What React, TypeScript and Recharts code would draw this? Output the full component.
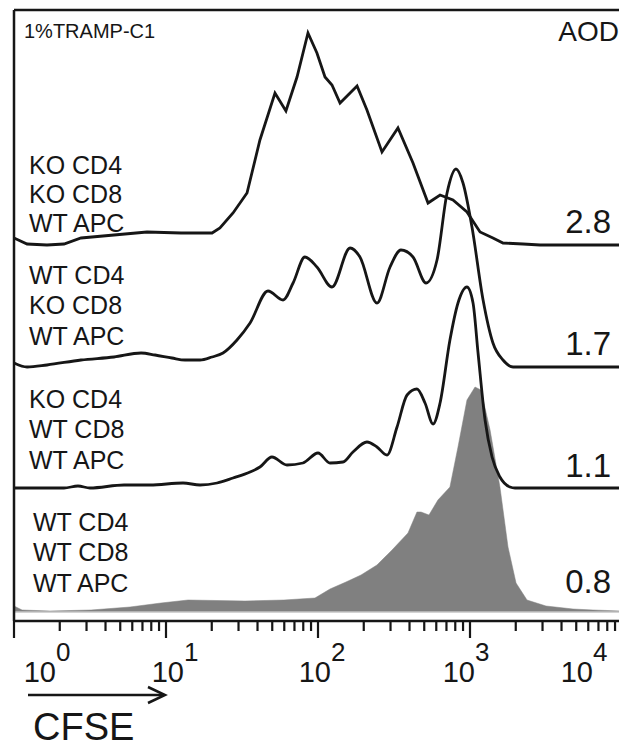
import React from 'react';
import { ComposedChart, Line, Area, XAxis, YAxis, ReferenceLine } from 'recharts';

// x values: log10 of CFSE intensity; y values: histogram height (counts, normalized)
const C1_X = [0, 0.086, 0.217, 0.329, 0.441, 0.658, 0.875, 1.099, 1.303, 1.355, 1.441, 1.533, 1.618, 1.717, 1.789, 1.862, 1.934, 1.993, 2.046, 2.092, 2.145, 2.257, 2.322, 2.421, 2.526, 2.625, 2.724, 2.803, 2.888, 2.98, 3.066, 3.151, 3.217, 3.349, 3.461, 4];
const C1_Y = [7, 1, 0, 1, 7, 10, 13, 12, 12, 17, 32, 52, 105, 152, 134, 168, 212, 192, 168, 160, 142, 159, 135, 93, 117, 82, 42, 50, 45, 33, 13, 7, 2, 1, 0, 0];

const C2_X = [0, 0.086, 0.217, 0.441, 0.658, 0.836, 0.928, 1.039, 1.125, 1.224, 1.303, 1.375, 1.467, 1.553, 1.671, 1.77, 1.836, 1.914, 1.993, 2.092, 2.211, 2.276, 2.388, 2.474, 2.546, 2.625, 2.711, 2.783, 2.849, 2.908, 2.954, 3.013, 3.086, 3.151, 3.217, 3.283, 4];
const C2_Y = [4, 0, 2, 7, 10, 14, 12, 9, 7, 7, 10, 14, 27, 44, 76, 67, 84, 110, 100, 80, 119, 110, 64, 100, 117, 110, 84, 107, 174, 198, 184, 140, 67, 24, 7, 0, 0];

const C3_X = [0, 0.329, 0.421, 0.5, 0.724, 0.895, 1.112, 1.224, 1.336, 1.441, 1.553, 1.618, 1.697, 1.796, 1.901, 2.0, 2.079, 2.164, 2.23, 2.322, 2.388, 2.454, 2.52, 2.586, 2.651, 2.704, 2.757, 2.803, 2.868, 2.921, 2.98, 3.02, 3.053, 3.099, 3.145, 3.197, 3.263, 3.296, 4];
const C3_Y = [0, 0, 2, 0, 3, 3, 5, 3, 5, 10, 16, 21, 31, 23, 25, 35, 25, 26, 36, 46, 41, 33, 61, 93, 99, 85, 64, 85, 148, 185, 201, 185, 135, 68, 31, 11, 1, 0, 0];

const G_X = [0, 0.053, 0.237, 0.507, 0.763, 0.967, 1.145, 1.52, 1.776, 1.98, 2.079, 2.184, 2.283, 2.388, 2.487, 2.592, 2.651, 2.678, 2.73, 2.789, 2.868, 2.921, 2.98, 3.033, 3.072, 3.132, 3.197, 3.25, 3.303, 3.375, 3.5, 3.678, 3.809, 4];
const G_Y = [6, 2, 1, 2, 5, 9, 12, 11, 12, 14, 23, 30, 37, 47, 62, 79, 100, 100, 97, 112, 125, 165, 212, 225, 222, 182, 125, 65, 29, 12, 6, 3, 2, 1];

// vertical stacking offsets of each histogram
const OFFSET_C1 = 367;
const OFFSET_C2 = 245;
const OFFSET_C3 = 124;

const GROUP_LABELS = [
  ['KO CD4', 'KO CD8', 'WT APC'],
  ['WT CD4', 'KO CD8', 'WT APC'],
  ['KO CD4', 'WT CD8', 'WT APC'],
  ['WT CD4', 'WT CD8', 'WT APC'],
];
const AOD_VALUES = ['2.8', '1.7', '1.1', '0.8'];
const TITLE = '1%TRAMP-C1';
const AOD_TITLE = 'AOD';
const X_TITLE = 'CFSE';

const MAJOR = [0, 1, 2, 3, 4];
const MINOR_FACTORS = [2, 3, 4, 5, 6, 7, 8, 9];
const TICKS = [
  ...MAJOR,
  ...MAJOR.slice(0, 4).flatMap((n) => MINOR_FACTORS.map((k) => n + Math.log10(k))),
].sort((a, b) => a - b);

const LABEL_SHIFT = [33, 9, 4, -4, -38];
const FONT = '"Liberation Sans", Arial, sans-serif';
const INK = '#161616';

const zip = (xs: number[], ys: number[]) => xs.map((x, i) => ({ x, h: ys[i] }));
const c1Data = zip(C1_X, C1_Y);
const c2Data = zip(C2_X, C2_Y);
const c3Data = zip(C3_X, C3_Y);
const gData = zip(G_X, G_Y);

function Tick(props: any) {
  const { x, y, payload } = props;
  const v = payload.value;
  const idx = MAJOR.findIndex((m) => Math.abs(m - v) < 1e-9);
  const isMajor = idx >= 0;
  return (
    <g>
      <line x1={x} x2={x} y1={y} y2={y + (isMajor ? 17 : 10)} stroke={INK} strokeWidth={2.2} />
      {isMajor && (
        <text x={x + LABEL_SHIFT[idx]} y={y + 61} textAnchor="middle" fontFamily={FONT} fill={INK}>
          <tspan fontSize={29}>10</tspan>
          <tspan fontSize={26} dy={-21}>{String(v)}</tspan>
        </text>
      )}
    </g>
  );
}

const groupBaselines = [[174, 203, 232], [284, 314, 345], [408, 438, 469], [531, 561, 592]];
const groupX = [29, 29, 29, 33];
const aodBaselines = [233, 355, 477, 593];

export default function App() {
  return (
    <div style={{ position: 'fixed', left: 0, top: 0, width: 619, height: 747, overflow: 'hidden', background: '#fff' }}>
      <ComposedChart width={640} height={747} margin={{ top: 10, right: 18, bottom: 0, left: 14 }}>
        <XAxis
          type="number"
          dataKey="x"
          domain={[0, 4]}
          ticks={TICKS}
          interval={0}
          tick={<Tick />}
          tickLine={false}
          tickSize={0}
          tickMargin={0}
          axisLine={{ stroke: INK, strokeWidth: 2.5 }}
          height={126}
          allowDataOverflow
        />
        <YAxis type="number" domain={[-9, 602]} hide width={0} allowDataOverflow />
        <ReferenceLine y={0} stroke="#c4c4c4" strokeWidth={1.5} />
        <Area
          data={gData}
          dataKey="h"
          type="linear"
          baseValue={0}
          fill="#808080"
          fillOpacity={1}
          stroke="#808080"
          strokeWidth={0.5}
          isAnimationActive={false}
        />
        <Line data={c3Data} dataKey={(d: any) => d.h + OFFSET_C3} type="monotone" stroke={INK} strokeWidth={2.8} dot={false} isAnimationActive={false} />
        <Line data={c2Data} dataKey={(d: any) => d.h + OFFSET_C2} type="monotone" stroke={INK} strokeWidth={2.8} dot={false} isAnimationActive={false} />
        <Line data={c1Data} dataKey={(d: any) => d.h + OFFSET_C1} type="linear" stroke={INK} strokeWidth={2.8} dot={false} isAnimationActive={false} />
        <ReferenceLine y={602} stroke={INK} strokeWidth={2.5} />
        <ReferenceLine x={0} stroke={INK} strokeWidth={2.5} />
      </ComposedChart>
      <svg width={619} height={747} style={{ position: 'absolute', left: 0, top: 0, pointerEvents: 'none' }}>
        <text x={24} y={38} fontSize={20} fontFamily={FONT} fill={INK}>{TITLE}</text>
        <text x={619} y={41} fontSize={28} textAnchor="end" fontFamily={FONT} fill={INK}>{AOD_TITLE}</text>
        {GROUP_LABELS.map((g, gi) =>
          g.map((t, li) => (
            <text key={gi + '-' + li} x={groupX[gi]} y={groupBaselines[gi][li]} fontSize={25} fontFamily={FONT} fill={INK}>
              {t}
            </text>
          ))
        )}
        {AOD_VALUES.map((v, i) => (
          <text key={v + i} x={611} y={aodBaselines[i]} fontSize={33} textAnchor="end" fontFamily={FONT} fill={INK}>
            {v}
          </text>
        ))}
        <line x1={28} y1={695} x2={163} y2={695} stroke={INK} strokeWidth={2.5} />
        <polyline points="148,687 165,695 148,703" fill="none" stroke={INK} strokeWidth={2.5} />
        <text x={33} y={740} fontSize={38} fontFamily={FONT} fill={INK}>{X_TITLE}</text>
      </svg>
    </div>
  );
}
